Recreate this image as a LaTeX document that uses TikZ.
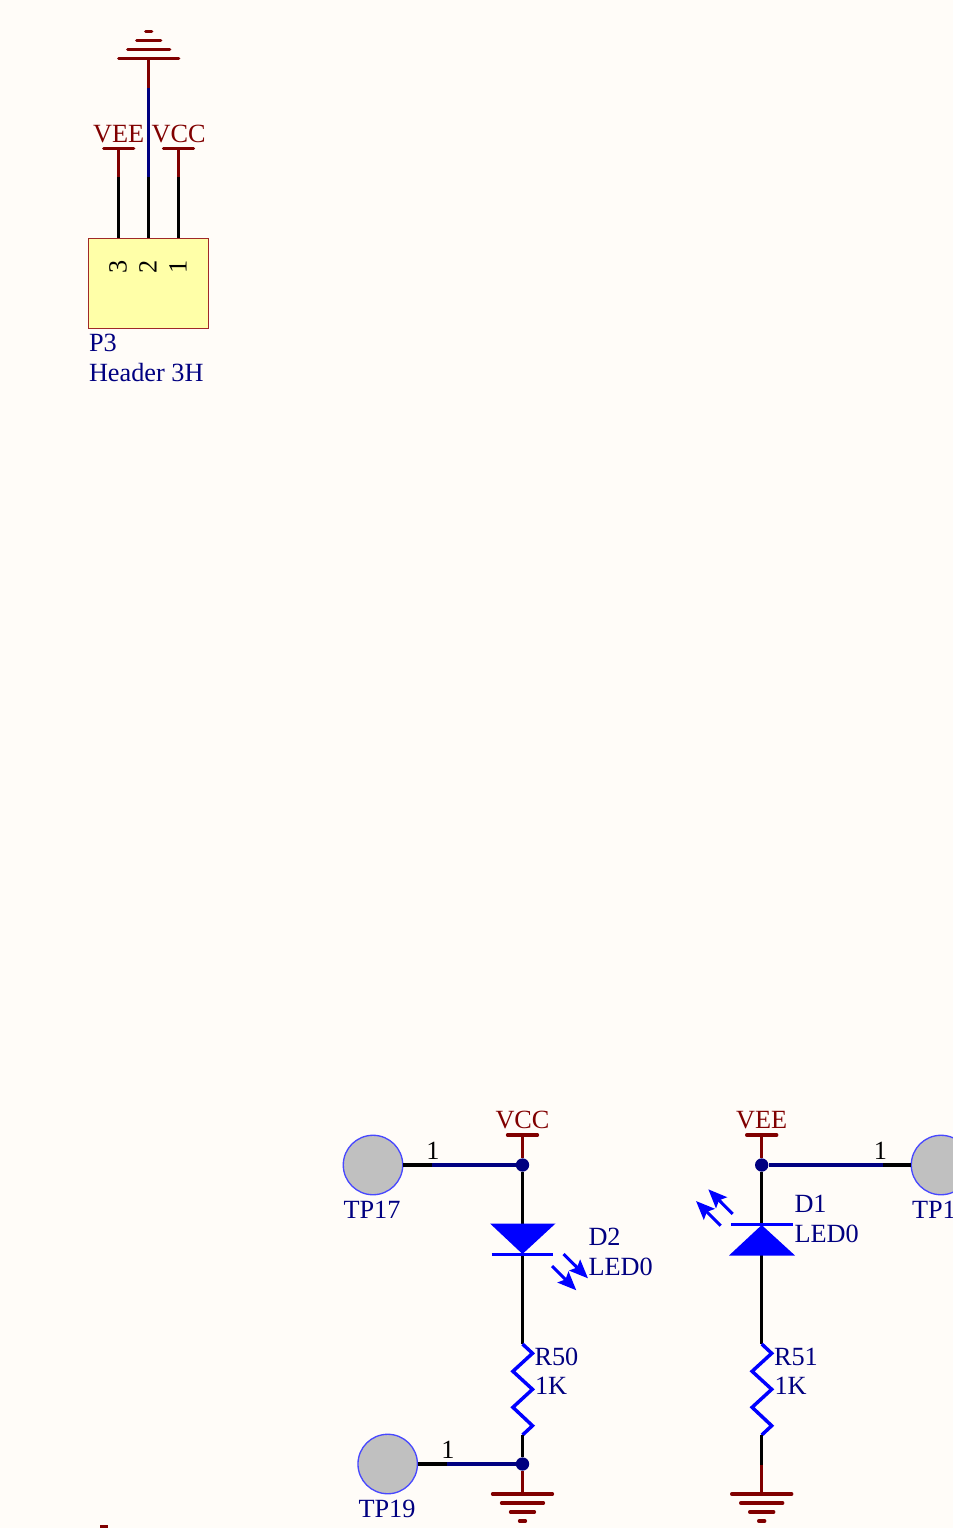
\documentclass[tikz,border=0pt]{standalone}
\usepackage{fontspec}
\setmainfont{Liberation Serif}
\usetikzlibrary{arrows.meta}
\definecolor{bgc}{HTML}{FFFCF8}
\definecolor{pwr}{HTML}{800000}
\definecolor{wirenet}{HTML}{000080}
\definecolor{sym}{HTML}{0000FF}
\definecolor{boxfill}{HTML}{FFFFA8}
\definecolor{boxline}{HTML}{A02828}
\definecolor{tpfill}{HTML}{C0C0C0}
\definecolor{tpline}{HTML}{4848FF}
\tikzset{
  x=0.75pt,y=-0.75pt,
  lab/.style={inner sep=0pt,outer sep=0pt,font=\fontsize{19.7pt}{19.7pt}\selectfont,text height=13pt,text depth=0pt},
  pwrlab/.style={lab,text=pwr,anchor=center},
  deslab/.style={lab,text=wirenet,anchor=west},
  pinlab/.style={lab,text=black,anchor=center},
  pinwire/.style={draw=black,line width=2.5pt},
  netwire/.style={draw=wirenet,line width=2.5pt},
  pwrline/.style={draw=pwr,line width=2.5pt},
  pwrbar/.style={draw=pwr,line width=2.5pt,line cap=round},
  symline/.style={draw=sym,line width=2.6pt,line join=miter},
  led/.style={fill=sym,draw=none},
  ledarrow/.style={draw=sym,line width=2.3pt,-{Stealth[length=14pt,width=11.5pt,inset=2.5pt]}},
  joint/.style={circle,fill=wirenet,draw=none,minimum size=10pt,inner sep=0pt},
  tpoint/.style={circle,fill=tpfill,draw=tpline,line width=1pt,minimum size=44.6pt,inner sep=0pt},
}
\newcommand{\gndsym}[2]{%
  \coordinate (#1top) at (#2,1494);
  \draw[pwrbar] (#2-30,1494) -- (#2+30,1494);
  \draw[pwrbar] (#2-21,1503) -- (#2+21,1503);
  \draw[pwrbar] (#2-12,1512) -- (#2+12,1512);
  \draw[pwrbar] (#2-3,1521) -- (#2+3,1521);
}
\newcommand{\resist}[3]{%
  \draw[symline] (#2) -- ++(10,9.3) -- ++(-19.6,18) -- ++(19.6,18) -- ++(-19.6,18) -- ++(19.6,18.4) -- (#3);
}
\begin{document}
\begin{tikzpicture}
\useasboundingbox (0,0) rectangle (953,1528);
\fill[bgc] (0,0) rectangle (953,1528);
\begin{scope}
\clip (0,0) rectangle (953,1528);

% Header P3
\node[draw=boxline,fill=boxfill,line width=0.9pt,minimum width=90pt,minimum height=67.5pt,inner sep=0pt,anchor=north west] (p3) at (88.2,237.8) {};
\coordinate (p3pin3) at (118.7,238);
\coordinate (p3pin2) at (148.7,238);
\coordinate (p3pin1) at (178.5,238);
\coordinate (p3j3) at (118.7,177);
\coordinate (p3j2) at (148.7,177);
\coordinate (p3j1) at (178.5,177);
\coordinate (p3m2) at (148.7,88);
\coordinate (topgnd) at (148.7,58.7);
\coordinate (veetop) at (118.7,148.3);
\coordinate (vcctop) at (178.5,148.3);
\draw[pinwire] (p3j3) -- (p3pin3);
\draw[pinwire] (p3j2) -- (p3pin2);
\draw[pinwire] (p3j1) -- (p3pin1);
\draw[pwrline] (veetop) -- (p3j3);
\draw[pwrline] (vcctop) -- (p3j1);
\draw[netwire] (p3m2) -- (p3j2);
\draw[pwrline] (topgnd) -- (p3m2);
\draw[pwrbar] (118.7,58.7) -- (178.7,58.7);
\draw[pwrbar] (127.7,49.7) -- (169.7,49.7);
\draw[pwrbar] (136.7,40.7) -- (160.7,40.7);
\draw[pwrbar] (145.7,31.7) -- (151.7,31.7);
\draw[pwrbar] (103.7,148.3) -- (133.7,148.3);
\draw[pwrbar] (163.5,148.3) -- (193.5,148.3);
\node[pwrlab] (veelab) at (118.7,133.7) {VEE};
\node[pwrlab] (vcclab) at (178.7,133.7) {VCC};
\node[pinlab,rotate=90] (n3) at (118,266.5) {3};
\node[pinlab,rotate=90] (n2) at (148,266.5) {2};
\node[pinlab,rotate=90] (n1) at (178,266.5) {1};
\node[deslab] (p3des) at (89,343) {P3};
\node[deslab] (p3val) at (89,373) {Header 3H};

% D2 branch
\node[pwrlab] (vcc2) at (522.5,1119.5) {VCC};
\draw[pwrbar] (507.5,1135) -- (537.5,1135);
\coordinate (vcc2top) at (522.5,1135);
\node[joint] (j1) at (522.5,1165) {};
\node[tpoint] (tp17) at (373,1165) {};
\coordinate (tp17m) at (432,1165);
\draw[pwrline] (vcc2top) -- (j1);
\draw[pinwire] (tp17) -- (tp17m);
\draw[netwire] (tp17m) -- (j1);
\node[pinlab] (tp17n) at (433,1150.5) {1};
\node[deslab] (tp17l) at (343.5,1209.5) {TP17};
\coordinate (d2a) at (522.5,1224);
\coordinate (d2k) at (522.5,1254);
\coordinate (r50t) at (522.5,1344);
\coordinate (r50b) at (522.5,1435);
\draw[pinwire] (j1) -- (d2a);
\draw[pinwire] (d2k) -- (r50t);
\fill[led] (490,1223.5) -- (555.5,1223.5) -- (d2k) -- cycle;
\draw[symline] (491.5,1254.5) -- (553,1254.5);
\coordinate (a1s) at (563.5,1254);
\coordinate (a1e) at (588,1278.3);
\coordinate (a2s) at (552,1266);
\coordinate (a2e) at (576.3,1290.3);
\draw[ledarrow] (a1s) -- (a1e);
\draw[ledarrow] (a2s) -- (a2e);
\node[deslab] (d2l) at (588.5,1237) {D2};
\node[deslab] (d2v) at (588.5,1267) {LED0};
\resist{r50}{r50t}{r50b}
\node[deslab] (r50l) at (534.5,1356.5) {R50};
\node[deslab] (r50v) at (535,1386) {1K};
\node[joint] (j2) at (522.5,1464) {};
\node[tpoint] (tp19) at (387.7,1464) {};
\coordinate (tp19m) at (447,1464);
\draw[pinwire] (r50b) -- (j2);
\draw[pinwire] (tp19) -- (tp19m);
\draw[netwire] (tp19m) -- (j2);
\node[pinlab] (tp19n) at (448,1449.5) {1};
\node[deslab] (tp19l) at (358.5,1508.5) {TP19};
\gndsym{g2}{522.5}
\draw[pwrline] (j2) -- (g2top);

% D1 branch
\node[pwrlab] (vee2) at (761.7,1119.5) {VEE};
\draw[pwrbar] (746.7,1135) -- (776.7,1135);
\coordinate (vee2top) at (761.7,1135);
\node[joint] (j3) at (761.7,1165) {};
\node[tpoint] (tp18) at (941,1165) {};
\coordinate (tp18m) at (882.5,1165);
\draw[pwrline] (vee2top) -- (j3);
\draw[pinwire] (tp18) -- (tp18m);
\draw[netwire] (tp18m) -- (j3);
\node[pinlab] (tp18n) at (880.5,1150.5) {1};
\node[deslab] (tp18l) at (912,1209.5) {TP1};
\coordinate (d1k) at (761.7,1225);
\coordinate (d1a) at (761.7,1255);
\coordinate (r51t) at (761.7,1344);
\coordinate (r51b) at (761.7,1435);
\draw[pinwire] (j3) -- (d1k);
\draw[pinwire] (d1a) -- (r51t);
\fill[led] (729,1255.5) -- (795,1255.5) -- (d1k) -- cycle;
\draw[symline] (731,1224.7) -- (793,1224.7);
\coordinate (a3s) at (720.7,1225.7);
\coordinate (a3e) at (696,1201);
\coordinate (a4s) at (732.7,1214);
\coordinate (a4e) at (708.3,1189.3);
\draw[ledarrow] (a3s) -- (a3e);
\draw[ledarrow] (a4s) -- (a4e);
\node[deslab] (d1l) at (794.5,1204) {D1};
\node[deslab] (d1v) at (794.5,1234) {LED0};
\resist{r51}{r51t}{r51b}
\node[deslab] (r51l) at (774,1356.5) {R51};
\node[deslab] (r51v) at (774.5,1386) {1K};
\coordinate (r51m) at (761.7,1465);
\gndsym{g1}{761.7}
\draw[pinwire] (r51b) -- (r51m);
\draw[pwrline] (r51m) -- (g1top);

% cut-off mark at the lower edge
\fill[pwr] (99.5,1525.2) -- (107.8,1525.2) -- (107.8,1528) -- (99.5,1528) -- cycle;
\end{scope}
\end{tikzpicture}
\end{document}
